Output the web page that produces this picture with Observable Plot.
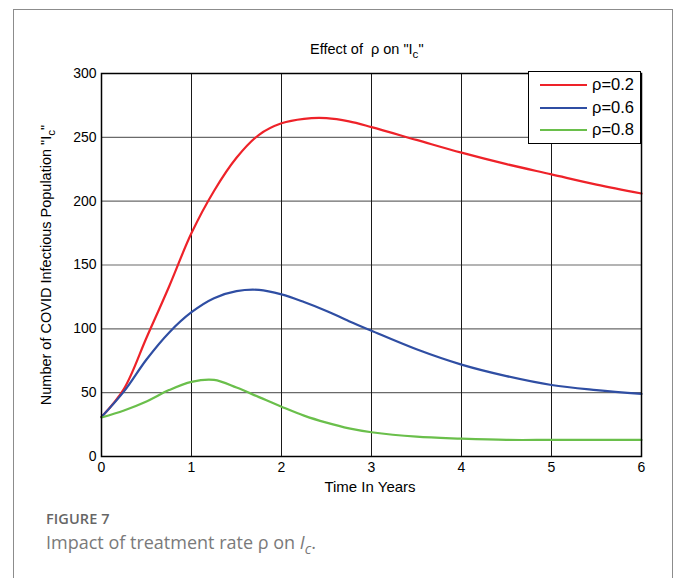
<!DOCTYPE html>
<html>
<head>
<meta charset="utf-8">
<script src="https://cdn.jsdelivr.net/npm/d3@7"></script>
<script src="https://cdn.jsdelivr.net/npm/@observablehq/plot@0.6"></script>
<style>
  html, body { margin: 0; padding: 0; background: #fff; }
  #wrap { position: relative; width: 680px; height: 578px; overflow: hidden; font-family: "Liberation Sans", Arial, sans-serif; }
  #outer { position: absolute; left: 13px; top: 9px; width: 658px; height: 620px; border: 1.5px solid #8c8c8c; border-bottom: none; }
  #chart { position: absolute; left: 0; top: 0; }
  .lbl { position: absolute; font-size: 14.5px; color: #000; white-space: nowrap; }
  sub { font-size: 0.8em; vertical-align: -0.35em; line-height: 0; }
  #legend { position: absolute; left: 528px; top: 71px; width: 111px; height: 71px; background: #fff; border: 1.3px solid #000; }
  .lrow { position: absolute; left: 0; height: 20px; width: 111px; }
  .lrow .sw { position: absolute; left: 11px; top: 9px; width: 47px; height: 0; border-top: 2.2px solid; }
  .lrow .tx { position: absolute; left: 63px; top: 0px; font-size: 16.5px; }
  #fig { position: absolute; left: 46px; top: 509px; font-family: "Open Sans", "Noto Sans", sans-serif; font-size: 14.5px; font-weight: 600; color: #666; letter-spacing: 0.1px; }
  #cap { position: absolute; left: 46px; top: 530px; font-family: "Open Sans", "Noto Sans", sans-serif; font-size: 18px; color: #7a7a7a; }
</style>
</head>
<body>
<div id="wrap">
  <div id="outer"></div>
  <div id="chart"></div>
  <div class="lbl" style="left:310px; top:41px;">Effect of&nbsp; ρ on "I<sub>c</sub>"</div>
  <div class="lbl" style="left:46px; top:265px; transform: translate(-50%,-50%) rotate(-90deg);">Number of COVID Infectious Population "I<sub>c</sub>"</div>
  <div class="lbl" style="left:370px; top:478px; transform: translateX(-50%); font-size:15px;">Time In Years</div>
  <div id="legend"></div>
  <div id="fig">FIGURE 7</div>
  <div id="cap">Impact of treatment rate ρ on <i>I<sub>c</sub></i>.</div>
</div>
<script>
const years = [0, 0.25, 0.5, 0.75, 1, 1.25, 1.5, 1.75, 2, 2.25, 2.5, 2.75, 3, 3.5, 4, 4.5, 5, 5.5, 6];
const rho02 = [31, 53, 93, 133, 175, 208, 234, 252, 261, 264.5, 265, 262.5, 258, 248, 238, 229, 221, 213, 206];
const rho06 = [31, 51, 76, 97, 113, 124, 129.5, 130.5, 127, 121, 114, 106, 98.5, 84, 72, 63, 56, 52, 49];
const rho08 = [30.5, 36, 43, 52, 58.5, 60, 54, 46.5, 39, 32, 26.5, 22, 19, 15.5, 14, 13, 13, 13, 13];
const seriesNames = ["ρ=0.2", "ρ=0.6", "ρ=0.8"];
const seriesColors = ["#ee2229", "#2f4ea3", "#6abf4b"];
const xTicks = [0, 1, 2, 3, 4, 5, 6];
const yTicks = [0, 50, 100, 150, 200, 250, 300];

const rows = [];
[rho02, rho06, rho08].forEach((vals, i) => {
  vals.forEach((v, j) => rows.push({t: years[j], v, s: seriesNames[i]}));
});

const plot = Plot.plot({
  width: 680,
  height: 500,
  marginLeft: 101,
  marginRight: 39,
  marginTop: 73,
  marginBottom: 44,
  style: {fontFamily: "Liberation Sans, Arial, sans-serif", background: "transparent", color: "#000"},
  x: {domain: [0, 6], axis: null},
  y: {domain: [0, 300], axis: null},
  color: {domain: seriesNames, range: seriesColors},
  marks: [
    Plot.ruleY(yTicks, {x1: 0, x2: 6, stroke: "#6a6a6a", strokeWidth: 1.1}),
    Plot.ruleX(xTicks, {y1: 0, y2: 300, stroke: "#1a1a1a", strokeWidth: 1}),
    Plot.text(xTicks, {x: d => d, frameAnchor: "bottom", dy: 15, fontSize: 14, text: d => String(d), fill: "#000"}),
    Plot.text(yTicks, {y: d => d, frameAnchor: "left", dx: -5, textAnchor: "end", fontSize: 14, text: d => String(d), fill: "#000"}),
    Plot.line(rows, {x: "t", y: "v", stroke: "s", z: "s", strokeWidth: 2.2, curve: "catmull-rom"}),
    Plot.frame({stroke: "#000", strokeWidth: 1.5})
  ]
});
document.getElementById("chart").appendChild(plot);

const legend = document.getElementById("legend");
seriesNames.forEach((name, i) => {
  const row = document.createElement("div");
  row.className = "lrow";
  row.style.top = (3 + i * 22.5) + "px";
  row.innerHTML = `<div class="sw" style="border-color:${seriesColors[i]}"></div><div class="tx">${name}</div>`;
  legend.appendChild(row);
});
</script>
</body>
</html>
